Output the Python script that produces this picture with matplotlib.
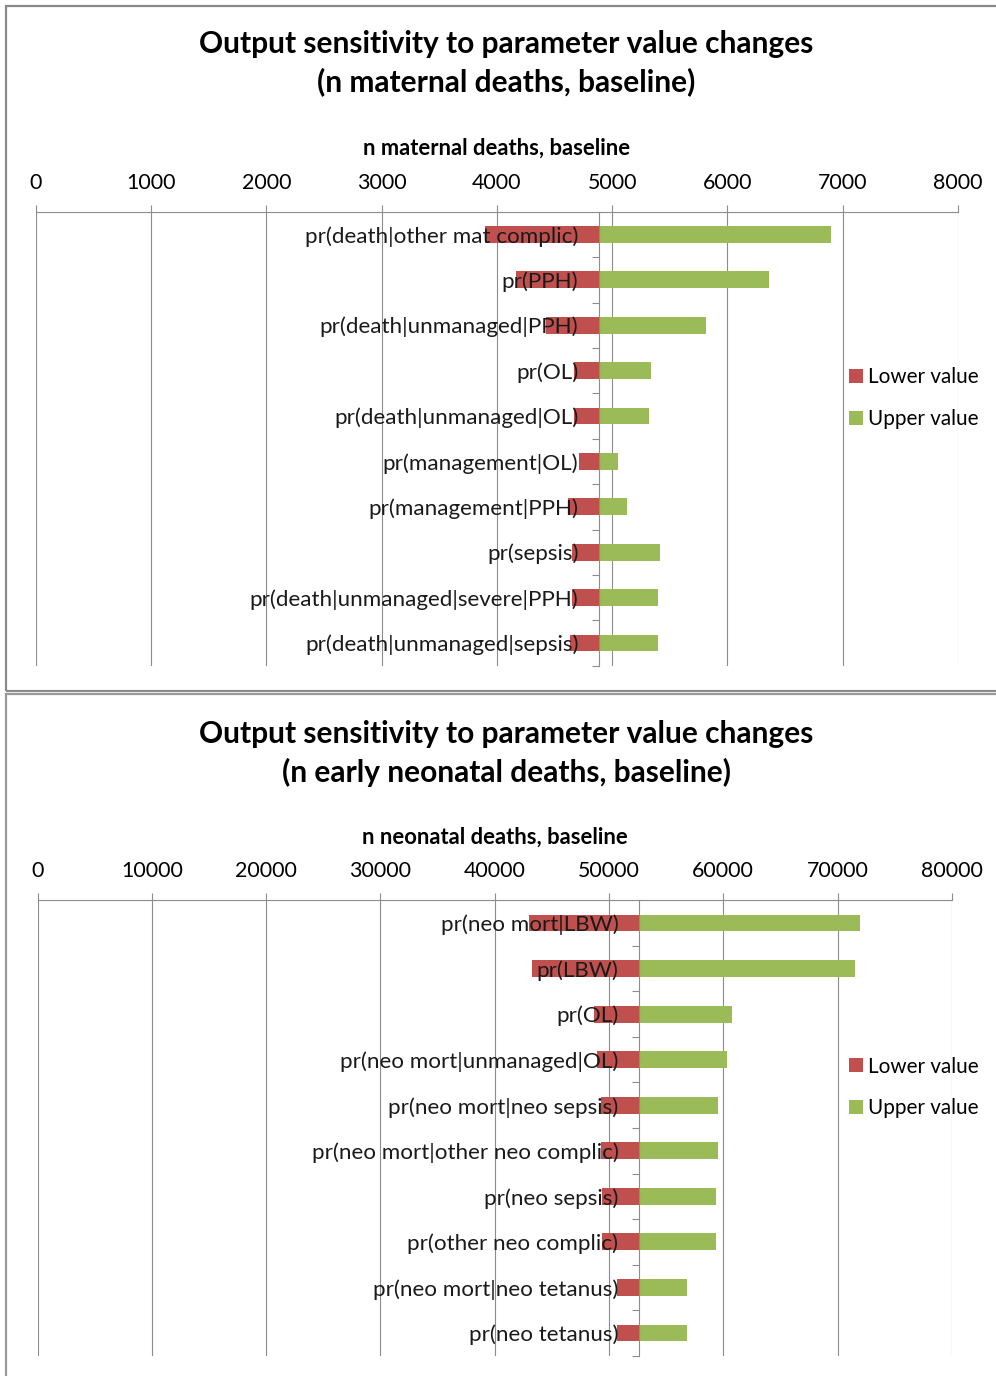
import numpy as np
import matplotlib
matplotlib.use("Agg")
import matplotlib.pyplot as plt
from matplotlib.patches import Rectangle

plt.rcParams["font.family"] = ["Lato", "DejaVu Sans"]

# ---- data -------------------------------------------------------------
mat_params = [
    "pr(death|other mat complic)",
    "pr(PPH)",
    "pr(death|unmanaged|PPH)",
    "pr(OL)",
    "pr(death|unmanaged|OL)",
    "pr(management|OL)",
    "pr(management|PPH)",
    "pr(sepsis)",
    "pr(death|unmanaged|severe|PPH)",
    "pr(death|unmanaged|sepsis)",
]
mat_baseline = 4888
mat_lower = [3897, 4166, 4426, 4669, 4669, 4712, 4619, 4649, 4649, 4634]
mat_upper = [6897, 6363, 5816, 5339, 5319, 5048, 5126, 5417, 5400, 5400]
mat_ticks = list(range(0, 8001, 1000))

neo_params = [
    "pr(neo mort|LBW)",
    "pr(LBW)",
    "pr(OL)",
    "pr(neo mort|unmanaged|OL)",
    "pr(neo mort|neo sepsis)",
    "pr(neo mort|other neo complic)",
    "pr(neo sepsis)",
    "pr(other neo complic)",
    "pr(neo mort|neo tetanus)",
    "pr(neo tetanus)",
]
neo_baseline = 52650
neo_lower = [43027, 43237, 48714, 48924, 49300, 49300, 49388, 49388, 50700, 50700]
neo_upper = [71960, 71549, 60787, 60297, 59510, 59510, 59388, 59388, 56850, 56850]
neo_ticks = list(range(0, 80001, 10000))

RED = "#C0504D"
GREEN = "#9BBB59"
GRID = "#8C8C8C"

W, H = 996, 1376
fig = plt.figure(figsize=(W / 100, H / 100), dpi=100)


def fx(px):
    return px / W


def fy(py):
    return 1 - py / H


def panel(left, right, top, bottom, params, base, lower, upper,
          ticks, xlabel, legend_y):
    ax = fig.add_axes([fx(left), fy(bottom), (right - left) / W, (bottom - top) / H])
    y = np.arange(len(params))
    lo = np.array(lower, dtype=float)
    hi = np.array(upper, dtype=float)
    ax.barh(y, lo - base, left=base, height=0.37, color=RED, zorder=1,
            label="Lower value")
    ax.barh(y, hi - base, left=base, height=0.37, color=GREEN, zorder=1,
            label="Upper value")
    ax.set_ylim(len(params) - 0.5, -0.5)
    ax.set_xlim(ticks[0], ticks[-1])

    # value axis along the top
    ax.xaxis.tick_top()
    ax.set_xticks(ticks)
    ax.set_xticklabels([str(t) for t in ticks])
    ax.tick_params(axis="x", length=5, width=0.8, color=GRID, direction="out",
                   pad=8.5, labelsize=15.4, labelcolor="black")
    ax.grid(axis="x", color=GRID, lw=0.8)
    ax.xaxis.set_zorder(0.5)
    ax.xaxis.set_label_position("top")
    ax.set_xlabel(xlabel, fontsize=15.8, fontweight="bold", labelpad=13)

    # category axis crossing at the baseline value
    ax.spines["left"].set_position(("data", base))
    ax.spines["left"].set_color(GRID)
    ax.spines["left"].set_linewidth(0.8)
    ax.spines["top"].set_color(GRID)
    ax.spines["top"].set_linewidth(0.8)
    ax.spines["right"].set_visible(False)
    ax.spines["bottom"].set_visible(False)
    ax.set_yticks(y)
    ax.set_yticklabels(params)
    ax.set_yticks(np.arange(len(params)) + 0.5, minor=True)
    ax.tick_params(axis="y", which="major", length=0, pad=15,
                   labelsize=16.1, labelcolor="#1a1a1a")
    ax.tick_params(axis="y", which="minor", length=5, width=0.8, color=GRID,
                   direction="out")
    ax.yaxis.set_zorder(3)

    ax.legend(loc="center left", bbox_to_anchor=(fx(849), fy(legend_y)),
              bbox_transform=fig.transFigure, frameon=False, fontsize=14.9,
              handlelength=0.68, handleheight=0.68, handletextpad=0.22,
              labelspacing=1.05, borderpad=0, borderaxespad=0)
    return ax


def frame(x0, y0, x1, y1, color):
    fig.add_artist(Rectangle((fx(x0), fy(y1)), (x1 - x0) / W, (y1 - y0) / H,
                             transform=fig.transFigure, fill=False,
                             edgecolor=color, lw=1.6, zorder=10))


# panel frames
frame(6.3, 6, 1010, 690.5, "#8A8A8A")
frame(6.3, 694, 1010, 1400, "#9A9A9A")

TITLE = "Output sensitivity to parameter value changes"

# maternal deaths panel
fig.text(fx(506), fy(44), TITLE,
         ha="center", va="center", fontsize=21.5, fontweight="bold")
fig.text(fx(506), fy(82), "(n maternal deaths, baseline)",
         ha="center", va="center", fontsize=21.5, fontweight="bold")
panel(35.7, 958, 211.7, 665.7, mat_params, mat_baseline, mat_lower,
      mat_upper, mat_ticks, "n maternal deaths, baseline", 398)

# neonatal deaths panel
fig.text(fx(506), fy(734), TITLE,
         ha="center", va="center", fontsize=21.5, fontweight="bold")
fig.text(fx(506), fy(772), "(n early neonatal deaths, baseline)",
         ha="center", va="center", fontsize=21.5, fontweight="bold")
panel(37.5, 951.9, 900.2, 1355.8, neo_params, neo_baseline, neo_lower,
      neo_upper, neo_ticks, "n neonatal deaths, baseline", 1087.5)

fig.savefig("out.png", dpi=100)
